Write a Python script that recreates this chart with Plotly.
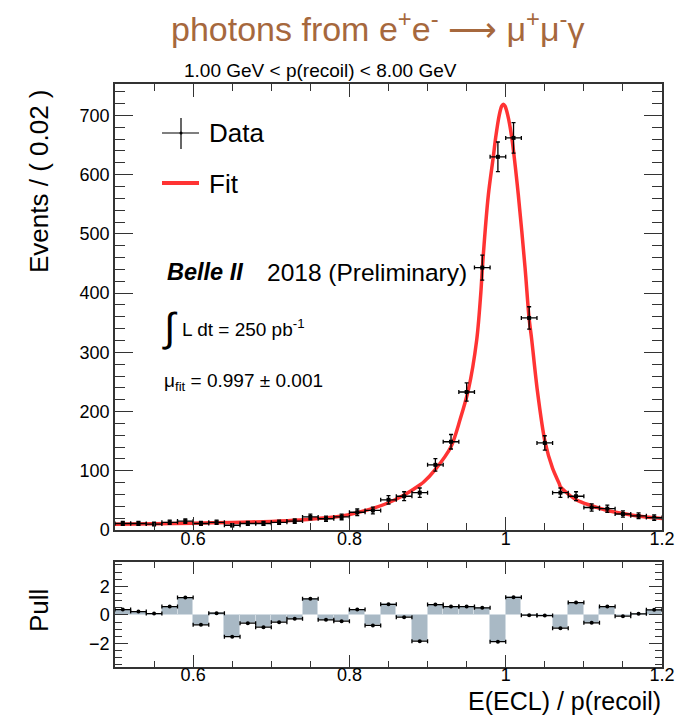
import numpy as np
import plotly.graph_objects as go

# ---- data: E(ECL)/p(recoil), 0.02-wide bins from 0.50 to 1.20 ----
bin_centers = [0.51, 0.53, 0.55, 0.57, 0.59, 0.61, 0.63, 0.65, 0.67, 0.69,
               0.71, 0.73, 0.75, 0.77, 0.79, 0.81, 0.83, 0.85, 0.87, 0.89,
               0.91, 0.93, 0.95, 0.97, 0.99, 1.01, 1.03, 1.05, 1.07, 1.09,
               1.11, 1.13, 1.15, 1.17, 1.19]
counts = [11, 11, 10, 13, 15, 11, 13, 8, 11, 11,
          13, 15, 22, 19, 22, 30, 33, 51, 57, 63,
          110, 149, 233, 443, 630, 662, 358, 147, 63, 57,
          38, 36, 27, 24, 21]
pulls = [0.37, 0.23, 0.09, 0.58, 1.21, -0.70, 0.12, -1.53, -0.58, -0.86,
         -0.51, -0.28, 1.12, -0.35, -0.44, 0.37, -0.74, 0.74, -0.16, -1.84,
         0.72, 0.58, 0.58, 0.49, -1.88, 1.23, -0.02, -0.05, -0.93, 0.86,
         -0.56, 0.58, -0.09, 0.07, 0.35]

# fitted line shape (x, events per bin)
fit_x = [0.50, 0.55, 0.60, 0.65, 0.70, 0.737, 0.76, 0.79, 0.83, 0.85,
         0.87, 0.89, 0.895, 0.91, 0.93, 0.9415, 0.9522, 0.9629, 0.9684, 0.970,
         0.9778, 0.9842, 0.9872, 0.9918, 0.995, 0.997, 0.999, 1.0025, 1.0077,
         1.0161, 1.0248, 1.0298, 1.0333, 1.0404, 1.0503, 1.0600, 1.0686,
         1.07, 1.09, 1.11, 1.13, 1.15, 1.17, 1.19, 1.20]
fit_y = [9.5, 10.5, 11.5, 12.8, 14.5, 16.9, 19.5, 23.6, 36.6, 46,
         59, 76, 81, 102.5, 140.7, 186, 236.5, 321, 405, 440,
         566, 631, 663, 701, 716, 719, 716, 701, 663,
         566, 442, 359, 321, 236.5, 149, 104, 78,
         73, 51, 41, 33, 28, 23.5, 20.5, 19.5]

bin_half_width = 0.01
stat_err = np.sqrt(np.array(counts, dtype=float))

x_ticks = [0.6, 0.8, 1.0, 1.2]
x_tick_text = ["0.6", "0.8", "1", "1.2"]
y_ticks = [0, 100, 200, 300, 400, 500, 600, 700]
pull_ticks = [-2, 0, 2]
pull_tick_text = ["\u22122", "0", "2"]

FONT = "Liberation Sans, Arial, Helvetica, sans-serif"
AXIS_COLOR = "#333333"
FIT_RED = "#ff3333"
PULL_FILL = "#a9b9c5"

W, H = 692, 716
ML, MR, MT, MB = 115, 30, 84, 49
PW = W - ML - MR
PH = H - MT - MB


def px_x(px):
    return (px - ML) / PW


def px_y(py):
    return (H - MB - py) / PH


fig = go.Figure()

# main panel: fit
fig.add_trace(go.Scatter(
    x=fit_x, y=fit_y, mode="lines",
    line=dict(color=FIT_RED, width=3.5, shape="spline", smoothing=0.8),
    xaxis="x", yaxis="y", showlegend=False, name="Fit",
))

# main panel: data with stat. errors
fig.add_trace(go.Scatter(
    x=bin_centers, y=counts, mode="markers",
    marker=dict(color="black", size=4, symbol="square"),
    error_y=dict(type="data", array=stat_err, color="black", thickness=1.3, width=2),
    error_x=dict(type="constant", value=bin_half_width, color="black", thickness=1.3, width=2),
    xaxis="x", yaxis="y", showlegend=False, name="Data",
))

# pull panel: filled histogram + points
fig.add_trace(go.Bar(
    x=bin_centers, y=pulls, width=0.02,
    marker=dict(color=PULL_FILL, line=dict(color="#d3dce3", width=1)),
    xaxis="x2", yaxis="y2", showlegend=False,
))
fig.add_trace(go.Scatter(
    x=bin_centers, y=pulls, mode="markers",
    marker=dict(color="black", size=4),
    error_x=dict(type="constant", value=bin_half_width, color="black", thickness=1.3, width=2),
    xaxis="x2", yaxis="y2", showlegend=False,
))

axis_common = dict(
    showline=True, linecolor=AXIS_COLOR, linewidth=1.5, mirror="ticks",
    ticks="inside", tickcolor=AXIS_COLOR, tickwidth=1,
    showgrid=False, zeroline=False,
    tickfont=dict(family=FONT, size=18, color="black"),
)

main_bottom = px_y(530)
pull_top = px_y(562)

fig.update_layout(
    width=W, height=H, autosize=False,
    margin=dict(l=ML, r=MR, t=MT, b=MB),
    plot_bgcolor="white", paper_bgcolor="white",
    font=dict(family=FONT, color="black"),
    bargap=0,
    xaxis=dict(domain=[0, 1], anchor="y", range=[0.5, 1.2],
               tickvals=x_ticks, ticktext=x_tick_text, ticklen=13,
               ticklabelstandoff=-8,
               minor=dict(dtick=0.05, tick0=0.5, ticklen=7, ticks="inside",
                          tickcolor=AXIS_COLOR, showgrid=False),
               **axis_common),
    yaxis=dict(domain=[main_bottom, 1], anchor="x", range=[0, 753],
               tickvals=y_ticks, ticklen=18,
               minor=dict(dtick=20, tick0=0, ticklen=10, ticks="inside",
                          tickcolor=AXIS_COLOR, showgrid=False),
               **axis_common),
    xaxis2=dict(domain=[0, 1], anchor="y2", range=[0.5, 1.2],
                tickvals=x_ticks, ticktext=x_tick_text, ticklen=12,
                ticklabelstandoff=-9,
                minor=dict(dtick=0.05, tick0=0.5, ticklen=6, ticks="inside",
                           tickcolor=AXIS_COLOR, showgrid=False),
                **axis_common),
    yaxis2=dict(domain=[0, pull_top], anchor="x2", range=[-3.65, 3.7],
                tickvals=pull_ticks, ticktext=pull_tick_text, ticklen=13,
                minor=dict(dtick=0.5, tick0=0, ticklen=7, ticks="inside",
                           tickcolor=AXIS_COLOR, showgrid=False),
                **axis_common),
)

# legend drawn by hand: data cross and fit line
shapes = [
    dict(type="line", xref="paper", yref="paper",
         x0=px_x(162), x1=px_x(199), y0=px_y(133), y1=px_y(133),
         line=dict(color="black", width=1.2)),
    dict(type="line", xref="paper", yref="paper",
         x0=px_x(181), x1=px_x(181), y0=px_y(118), y1=px_y(149),
         line=dict(color="black", width=1.2)),
    dict(type="circle", xref="paper", yref="paper",
         x0=px_x(179.5), x1=px_x(182.5), y0=px_y(134.5), y1=px_y(131.5),
         fillcolor="black", line=dict(color="black", width=0)),
    dict(type="line", xref="paper", yref="paper",
         x0=px_x(162), x1=px_x(199), y0=px_y(183), y1=px_y(183),
         line=dict(color=FIT_RED, width=4)),
]
fig.update_layout(shapes=shapes)


def label(text, px, py, size, xanchor="left", color="black", angle=0):
    return dict(text=text, x=px_x(px), y=px_y(py), xref="paper", yref="paper",
                xanchor=xanchor, yanchor="middle", showarrow=False,
                textangle=angle, font=dict(family=FONT, size=size, color=color))


annotations = [
    label("photons from e<sup>+</sup>e<sup>-</sup> \u27f6 \u03bc<sup>+</sup>\u03bc<sup>-</sup>\u03b3",
          377, 27, 34, xanchor="center", color="#a6683d"),
    label("1.00 GeV &lt; p(recoil) &lt; 8.00 GeV", 182, 70, 19),
    label("Events / ( 0.02 )", 39, 181, 26, xanchor="center", angle=-90),
    label("Pull", 39, 611, 26, xanchor="center", angle=-90),
    label("E(ECL) / p(recoil)", 663, 701, 25, xanchor="right"),
    label("Data", 207, 133, 26),
    label("Fit", 207, 184, 26),
    label("<b><i>Belle II</i></b>", 165, 272, 23.5),
    label("2018 (Preliminary)", 265, 272, 24.5),
    label("\u222b", 160, 327, 40),
    label("L dt = 250 pb<sup>-1</sup>", 180, 328, 19),
    label("\u03bc<sub>fit</sub> = 0.997 \u00b1 0.001", 162, 382, 19),
]
fig.update_layout(annotations=annotations)

fig.write_html("out.html")
